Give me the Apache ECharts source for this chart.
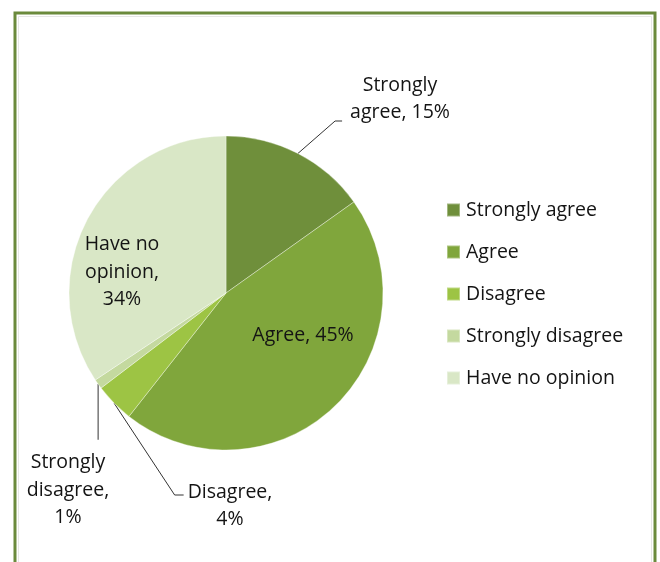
<!DOCTYPE html>
<html>
<head>
<meta charset="utf-8">
<script src="https://cdn.jsdelivr.net/npm/echarts@6/dist/echarts.min.js"></script>
<style>
  html, body { margin: 0; padding: 0; background: #ffffff; }
  #chart { width: 660px; height: 562px; }
</style>
</head>
<body>
<div id="chart"></div>
<script>
// Survey responses, percent of respondents
const categories = ['Strongly agree', 'Agree', 'Disagree', 'Strongly disagree', 'Have no opinion'];
const shares = [15, 45, 4, 1, 34];
const sliceColors = ['#6f8f3b', '#80a63c', '#9dc444', '#c4d99f', '#d9e7c6'];

// How each slice label is broken into lines
const labelNames = ['Strongly\nagree', 'Agree', 'Disagree', 'Strongly\ndisagree', 'Have no\nopinion'];
const labelSeparators = [', ', ', ', ',\n', ',\n', ',\n'];
const insideLabels = [1, 4];

// Where each label block is centred
const labelSpots = [[400, 99], [303, 335], [230, 506], [68, 490], [122, 272]];

const FONT = '"Open Sans", Lato, sans-serif';
const FONT_SIZE = 19.5;

const data = categories.map((name, i) => {
  const inside = insideLabels.indexOf(i) >= 0;
  return {
    name: name,
    value: shares[i],
    itemStyle: { color: sliceColors[i] },
    label: { position: inside ? 'inside' : 'outside' },
    labelLine: { show: !inside }
  };
});

// Leader line from the slice edge to its label: a straight run, then a short
// horizontal elbow into the label, or a plain vertical drop onto the label top.
function leaderPoints(idx, start, w, h) {
  const cx = labelSpots[idx][0], cy = labelSpots[idx][1];
  const left = cx - w / 2, top = cy - h / 2;
  if (idx === 0) {
    const end = [left - 8, cy + 22];
    return [start, [end[0] - 7, end[1]], end];
  }
  if (idx === 2) {
    const end = [left - 4, cy - 11];
    return [start, [end[0] - 9, end[1]], end];
  }
  if (idx === 3) {
    return [start, [start[0], top - 9]];
  }
  return null;
}

const chart = echarts.init(document.getElementById('chart'), null, { renderer: 'canvas' });

chart.setOption({
  backgroundColor: '#ffffff',
  animation: false,
  graphic: [
    {
      type: 'rect',
      shape: { x: 15, y: 13, width: 640, height: 570 },
      style: { fill: 'none', stroke: '#6b8a3c', lineWidth: 3 },
      silent: true
    },
    {
      type: 'rect',
      shape: { x: 18.5, y: 16.5, width: 633, height: 570 },
      style: { fill: 'none', stroke: '#e6e6e6', lineWidth: 1 },
      silent: true
    }
  ],
  legend: {
    orient: 'vertical',
    left: 441,
    top: 195,
    itemWidth: 13,
    itemHeight: 13,
    itemGap: 22,
    icon: 'rect',
    data: categories,
    textStyle: { fontFamily: FONT, fontSize: FONT_SIZE, color: '#141414', lineHeight: 20, padding: [0, 0, 0, 1] }
  },
  series: [{
    type: 'pie',
    center: [226, 293],
    radius: 157,
    startAngle: 90,
    clockwise: true,
    avoidLabelOverlap: false,
    data: data,
    itemStyle: { borderColor: 'rgba(255,255,255,0.35)', borderWidth: 1 },
    label: {
      show: true,
      fontFamily: FONT,
      fontSize: FONT_SIZE,
      lineHeight: 27.5,
      color: '#141414',
      align: 'center',
      formatter: p => labelNames[p.dataIndex] + labelSeparators[p.dataIndex] + p.value + '%'
    },
    labelLine: {
      show: true,
      length: 30,
      length2: 8,
      lineStyle: { color: '#333333', width: 1 }
    },
    labelLayout: p => {
      const out = {
        x: labelSpots[p.dataIndex][0],
        y: labelSpots[p.dataIndex][1],
        align: 'center',
        verticalAlign: 'middle'
      };
      if (p.labelLinePoints && p.labelLinePoints.length) {
        const start = [p.labelLinePoints[0][0], p.labelLinePoints[0][1]];
        const pts = leaderPoints(p.dataIndex, start, p.labelRect.width, p.labelRect.height);
        if (pts) out.labelLinePoints = pts;
      }
      return out;
    },
    emphasis: { disabled: true }
  }]
});
</script>
</body>
</html>
